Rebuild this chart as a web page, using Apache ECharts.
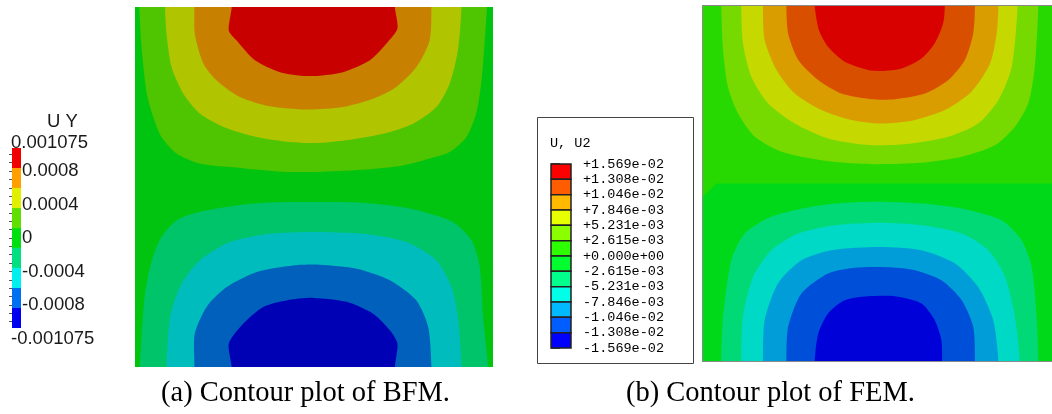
<!DOCTYPE html>
<html>
<head>
<meta charset="utf-8"/>
<style>
  html, body { margin: 0; padding: 0; background: #fff; }
  #main { width: 1052px; height: 414px; }
</style>
</head>
<body>
<div id="main"></div>
<script src="https://cdn.jsdelivr.net/npm/echarts@6/dist/echarts.min.js"></script>
<script type="text/javascript">

// contour boundaries, plot units 0..100 (x right, y down)
// (a) BFM
var bfmFull = [[0,0],[100,0],[100,100],[0,100]];
var bfmTop1 = [[1.2,0],[1.9,12],[3.3,24.1],[5.1,30.6],[7.4,36.1],[11.6,40.7],[18.1,43.5],[31.2,44.9],[42.3,45.8],[50.7,45.8],[63.7,45.2],[74.9,44],[82.3,42.1],[87.9,40.3],[92.6,36.1],[95.3,29.6],[96.7,21.3],[97.7,9.3],[98.3,0]];
var bfmTop2 = [[8.4,0],[8.8,7.4],[10.2,16.7],[13.5,24.1],[18.1,29.6],[24.7,33.3],[34,36.1],[43.3,37.5],[50.2,37.8],[59.1,37],[69.3,35.2],[77.7,32.4],[84.2,27.8],[87.9,21.3],[90.2,12],[91.2,0]];
var bfmTop3 = [[16.6,0],[16.7,7.4],[19.1,15.7],[22.8,20.4],[29.3,25],[37.7,27.6],[47.9,28.5],[58.1,27.8],[66.5,25.5],[73,22.2],[78.6,16.7],[82.3,9.3],[82.8,0]];
var bfmTop4 = [[27,0],[26.2,6.5],[28.4,9.3],[33.5,14.8],[40.5,18.1],[48.8,19.2],[58.1,18.1],[65.6,14.8],[70.2,10.2],[73.3,6],[72.6,0]];
var bfmBot1 = [[1.4,100],[1.9,90.7],[2.8,79.6],[4.7,70.4],[7.4,63.9],[11.6,59.3],[18.1,56.9],[31.2,54.8],[42.3,54.2],[50.7,54.2],[63.7,54.4],[76.7,56],[88.8,59.7],[94,64.8],[96.3,72.2],[97.2,86.1],[98.6,100]];
var bfmBot2 = [[8.8,100],[9.8,86.1],[13,76.9],[18.1,70.4],[26.5,65.3],[37.7,63],[49.8,62.5],[63.7,63],[75.8,65.3],[84.2,70.4],[88.4,77.8],[90.2,86.1],[91.2,100]];
var bfmBot3 = [[16.6,100],[16.7,90.7],[20,83.3],[25.6,77.8],[34,73.6],[44.2,71.8],[51.6,71.6],[61.9,72.7],[71.2,75.9],[78.6,81.5],[81.9,88.9],[82.8,100]];
var bfmBot4 = [[27,100],[26.2,93.5],[30.2,88],[35.8,83.3],[42.3,81.5],[49.8,80.8],[59.1,81.9],[66.5,85.2],[71.2,89.8],[73.3,93.5],[72.6,100]];
var bfmShapes = [bfmFull, bfmTop1, bfmTop2, bfmTop3, bfmTop4, bfmBot1, bfmBot2, bfmBot3, bfmBot4];
var bfmColors = ['#00c410', '#4fc400', '#b0c400', '#c88000', '#c80000', '#00c46a', '#00bcbc', '#0060bc', '#0000b4'];

// (b) FEM
var femFull = [[0,0],[100,0],[100,100],[0,100]];
var femTopBg = [[0,0],[100,0],[100,50],[4.1,50],[0,53.9]];
var femTop1 = [[5.5,0],[6,12.6],[7.4,22.9],[10.3,30.4],[15.1,36.9],[22.7,41.1],[34.1,43.5],[43.7,44.4],[50.8,44.6],[62.7,44.2],[74.2,42.5],[83.7,39.3],[89.4,34.1],[93.2,27.6],[95.1,17.3],[96.1,0]];
var femTop2 = [[11.2,0],[11.7,10.7],[14.1,20.1],[18.9,27.6],[26.5,33.2],[36,37.4],[45.6,39.1],[51.3,39.3],[59.9,38.8],[70.4,36.9],[78.9,33.2],[84.7,26.6],[88.5,17.3],[90.2,0]];
var femTop3 = [[17.4,0],[17.9,9.8],[21.3,18.2],[26.5,24.8],[34.1,29.4],[42.7,32.2],[50.8,33.2],[59.9,32.4],[69.4,29.4],[77,24.3],[82.3,16.4],[84.2,7.9],[84.7,0]];
var femTop4 = [[24.1,0],[24.6,7.9],[27.5,15.4],[33.2,21],[39.8,24.8],[48.4,26.4],[55.1,26.4],[63.7,24.8],[70.4,21],[75.1,15.4],[77.5,7.9],[78,0]];
var femTop5 = [[32.2,0],[33.4,7],[36,11.7],[40.8,15.9],[47.5,18.2],[51.3,18.5],[57,17.8],[62.7,15],[66.5,10.7],[68.9,5.1],[69.4,0]];
var femBot1 = [[5.5,100],[6,87.4],[8.4,71.5],[12.2,64],[19.8,59.3],[31.3,56.5],[40.8,55.4],[50.8,55.1],[62.7,55.6],[74.2,57],[85.6,60.3],[91.3,65.9],[94.2,73.4],[95.6,87.4],[96.1,100]];
var femBot2 = [[11.2,100],[11.7,87.4],[14.6,76.2],[19.8,68.7],[27.5,64],[37.9,61.7],[50.8,61],[62.7,61.7],[74.2,64],[81.8,68.7],[86.6,76.2],[89.4,87.4],[90.8,100]];
var femBot3 = [[17.4,100],[17.9,88.3],[21.7,78],[28.4,71.5],[37,68.7],[50.8,67.8],[62.7,68.7],[72.3,72.4],[78.9,79],[83.2,88.3],[84.7,100]];
var femBot4 = [[24.1,100],[24.6,90.2],[28.4,80.8],[36,75.2],[43.7,73.6],[51.3,73.4],[59.9,74.1],[68.4,77.1],[74.2,82.7],[77.5,90.2],[78,100]];
var femBot5 = [[32.2,100],[33.2,92.1],[36,86.4],[40.8,82.7],[47.5,81.6],[55.1,81.6],[62.7,83.6],[66.5,88.3],[68.4,93.9],[68.6,100]];
var femShapes = [femFull, femTopBg, femTop1, femTop2, femTop3, femTop4, femTop5, femBot1, femBot2, femBot3, femBot4, femBot5];
var femColors = ['#00d91a', '#27d900', '#76d900', '#c5d900', '#d99d00', '#d94f00', '#d90000', '#00d976', '#00d9c5', '#009dd9', '#004fd9', '#0000d9'];

// legend (a): band edges bottom->top, colours bottom->top
var legendABounds = [-0.001075, -0.000836, -0.000597, -0.000358, -0.000119, 0.000119, 0.000358, 0.000597, 0.000836, 0.001075];
var legendAColors = ['#0000f0', '#0070f0', '#00f0f0', '#00e080', '#00e010', '#60e000', '#e0f000', '#ffa000', '#f00000'];
var legendALabelValues = [0.0008, 0.0004, 0, -0.0004, -0.0008];
var legendALabelTexts = ['0.0008', '0.0004', '0', '-0.0004', '-0.0008'];
var legendATicks = [-0.001, -0.0009, -0.0008, -0.0007, -0.0006, -0.0005, -0.0004, -0.0003, -0.0002, -0.0001, 0,
                    0.0001, 0.0002, 0.0003, 0.0004, 0.0005, 0.0006, 0.0007, 0.0008, 0.0009, 0.001];

// legend (b): top->bottom, 13 labels on 12 bands
var legendBLabels = ['+1.569e-02', '+1.308e-02', '+1.046e-02', '+7.846e-03', '+5.231e-03', '+2.615e-03', '+0.000e+00',
                     '-2.615e-03', '-5.231e-03', '-7.846e-03', '-1.046e-02', '-1.308e-02', '-1.569e-02'];
var legendBColors = ['#ff0000', '#ff5d00', '#ffb900', '#e8ff00', '#8bff00', '#2eff00',
                     '#00ff2e', '#00ff8b', '#00ffe8', '#00b9ff', '#005dff', '#0000ff'];
var nB = legendBColors.length;

var myChart = echarts.init(document.getElementById('main'));

function contourSeries(idx, shapes, colors) {
    return {
        type: 'custom',
        xAxisIndex: idx,
        yAxisIndex: idx,
        clip: true,
        silent: true,
        animation: false,
        data: shapes.map(function (s, i) { return [i]; }),
        renderItem: function (params, api) {
            var k = params.dataIndex;
            var src = shapes[k];
            var first = src[0], last = src[src.length - 1];
            var flat = src.length <= 5;
            var pts = src.slice();
            // close open curves outside the plot so smoothing does not bend the edges
            if (!flat && first[1] === last[1]) {
                var out = first[1] === 0 ? -15 : 115;
                pts.push([last[0], out], [first[0], out]);
            }
            return {
                type: 'polygon',
                shape: { points: pts.map(function (p) { return api.coord(p); }), smooth: flat ? 0 : 0.25 },
                style: { fill: colors[k] }
            };
        }
    };
}

var option = {
    backgroundColor: '#fff',
    animation: false,
    grid: [
        { left: 135, top: 7, width: 358, height: 360 },
        { left: 702, top: 5, width: 350, height: 357 },
        { left: 12, top: 148, width: 9, height: 180 },
        { left: 551, top: 164, width: 20, height: 184 }
    ],
    xAxis: [
        { gridIndex: 0, type: 'value', min: 0, max: 100, show: false },
        { gridIndex: 1, type: 'value', min: 0, max: 100, show: false },
        { gridIndex: 2, type: 'value', min: 0, max: 1, show: false },
        { gridIndex: 3, type: 'value', min: 0, max: 1, show: false }
    ],
    yAxis: [
        { gridIndex: 0, type: 'value', min: 0, max: 100, inverse: true, show: false },
        { gridIndex: 1, type: 'value', min: 0, max: 100, inverse: true, show: false },
        {
            gridIndex: 2, type: 'value', min: -0.001075, max: 0.001075, position: 'right',
            axisLine: { show: false },
            splitLine: { show: false },
            axisTick: { show: true, inside: true, length: 3, customValues: legendATicks, lineStyle: { color: '#555', width: 1 } },
            axisLabel: {
                customValues: legendALabelValues,
                margin: 1,
                padding: [6, 0, 0, 0],
                fontFamily: 'Liberation Sans', fontSize: 18.5, color: '#1a1a1a',
                formatter: function (v) {
                    var i = legendALabelValues.indexOf(v);
                    return i >= 0 ? legendALabelTexts[i] : '';
                }
            }
        },
        {
            gridIndex: 3, type: 'value', min: 0, max: nB, interval: 1, position: 'right',
            axisLine: { show: false },
            splitLine: { show: false },
            axisTick: { show: true, length: 9, lineStyle: { color: '#222', width: 1.5 } },
            axisLabel: {
                margin: 12,
                fontFamily: 'Liberation Mono', fontSize: 13.5, color: '#000',
                formatter: function (v) { return legendBLabels[nB - v]; }
            }
        }
    ],
    series: [
        contourSeries(0, bfmShapes, bfmColors),
        contourSeries(1, femShapes, femColors),
        {
            type: 'custom', xAxisIndex: 2, yAxisIndex: 2, clip: false, silent: true, z: 1,
            data: legendAColors.map(function (c, i) { return [i]; }),
            renderItem: function (params, api) {
                var i = params.dataIndex;
                var p0 = api.coord([0, legendABounds[i + 1]]);
                var p1 = api.coord([1, legendABounds[i]]);
                return { type: 'rect', shape: { x: p0[0], y: p0[1], width: p1[0] - p0[0], height: p1[1] - p0[1] },
                         style: { fill: legendAColors[i] } };
            }
        },
        {
            type: 'custom', xAxisIndex: 3, yAxisIndex: 3, clip: false, silent: true,
            data: legendBColors.map(function (c, i) { return [i]; }),
            renderItem: function (params, api) {
                var j = params.dataIndex;
                var p0 = api.coord([0, nB - j]);
                var p1 = api.coord([1, nB - 1 - j]);
                return { type: 'rect', shape: { x: p0[0], y: p0[1], width: p1[0] - p0[0], height: p1[1] - p0[1] },
                         style: { fill: legendBColors[j], stroke: '#222', lineWidth: 1.5 } };
            }
        }
    ],
    graphic: [
        // frame of plot (b)
        { type: 'rect', z: 100, silent: true, shape: { x: 702.5, y: 5.5, width: 360, height: 356 },
          style: { fill: null, stroke: '#8a8a8a', lineWidth: 1 } },
        // legend box (b)
        { type: 'rect', z: -1, silent: true, shape: { x: 537.5, y: 117.5, width: 156, height: 246 },
          style: { fill: '#fff', stroke: '#444', lineWidth: 1 } },
        { type: 'text', z: 100, left: 550, top: 136,
          style: { text: 'U, U2', font: '13.5px "Liberation Mono"', fill: '#000' } },
        // legend (a) texts
        { type: 'text', z: 100, left: 47, top: 112,
          style: { text: 'U Y', font: '18.5px "Liberation Sans"', fill: '#1a1a1a' } },
        { type: 'text', z: 100, left: 11, top: 133,
          style: { text: '0.001075', font: '18.5px "Liberation Sans"', fill: '#1a1a1a' } },
        { type: 'text', z: 100, left: 11, top: 329,
          style: { text: '-0.001075', font: '18.5px "Liberation Sans"', fill: '#1a1a1a' } },
        // captions
        { type: 'text', z: 100, left: 161, top: 379,
          style: { text: '(a) Contour plot of BFM.', font: '28.5px "Liberation Serif"', fill: '#000' } },
        { type: 'text', z: 100, left: 626, top: 379,
          style: { text: '(b) Contour plot of FEM.', font: '28.5px "Liberation Serif"', fill: '#000' } }
    ]
};

myChart.setOption(option);
</script>
</body>
</html>
